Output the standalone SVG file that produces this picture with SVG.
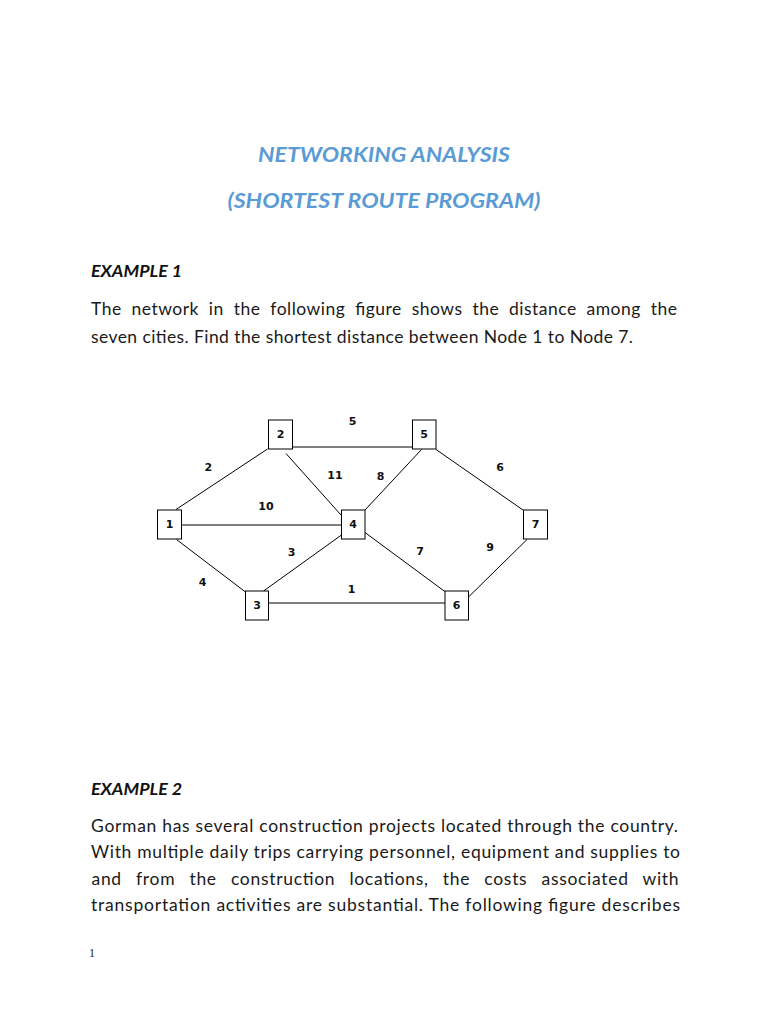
<svg xmlns="http://www.w3.org/2000/svg" width="768" height="1024" viewBox="0 0 768 1024">
<style>
.title{font-family:Lato,"Liberation Sans",sans-serif;font-weight:bold;font-style:italic;font-size:20px;fill:#5B9BD5}
.head{font-family:Lato,"Liberation Sans",sans-serif;font-weight:bold;font-style:italic;font-size:17px;fill:#111}
.body{font-family:Lato,"Liberation Sans",sans-serif;font-size:17.5px;fill:#1a1a1a}
.pg{font-family:"Liberation Serif",serif;font-size:12px;fill:#222}
.node rect{fill:#fff;stroke:#000;stroke-width:1}
.lbl{font-family:"DejaVu Sans",sans-serif;font-weight:bold;font-size:11px;fill:#111;text-anchor:middle;dominant-baseline:central}
.edges line{stroke:#000;stroke-width:1}
</style>
<rect width="768" height="1024" fill="#fff"/>
<text class="title" x="384" y="162" text-anchor="middle" textLength="252" lengthAdjust="spacingAndGlyphs">NETWORKING ANALYSIS</text>
<text class="title" x="384" y="208" text-anchor="middle" textLength="313" lengthAdjust="spacingAndGlyphs">(SHORTEST ROUTE PROGRAM)</text>
<text class="head" x="91" y="277" textLength="91" lengthAdjust="spacingAndGlyphs">EXAMPLE 1</text>
<text class="body" x="91" y="315" word-spacing="5" textLength="586" lengthAdjust="spacing">The network in the following figure shows the distance among the</text>
<text class="body" x="91" y="343" textLength="542" lengthAdjust="spacing">seven cities. Find the shortest distance between Node 1 to Node 7.</text>

<g class="edges">
<line x1="176" y1="509.5" x2="267.5" y2="449"/>
<line x1="292.5" y1="447" x2="412.5" y2="447"/>
<line x1="181.5" y1="525" x2="341.5" y2="525"/>
<line x1="286" y1="453.5" x2="341" y2="515"/>
<line x1="176.5" y1="539.5" x2="245.5" y2="592"/>
<line x1="263.5" y1="591" x2="341.5" y2="535"/>
<line x1="268.5" y1="603" x2="445" y2="603"/>
<line x1="365" y1="510" x2="421.5" y2="449.5"/>
<line x1="365" y1="532.5" x2="445.5" y2="592"/>
<line x1="436" y1="449.5" x2="523" y2="510"/>
<line x1="469" y1="596.5" x2="527" y2="539.5"/>
<text class="lbl" x="352.7" y="421.7">5</text>
<text class="lbl" x="208.3" y="467.7">2</text>
<text class="lbl" x="335" y="475">11</text>
<text class="lbl" x="380.7" y="476.7">8</text>
<text class="lbl" x="266" y="506.7">10</text>
<text class="lbl" x="291.7" y="552.3">3</text>
<text class="lbl" x="202.7" y="582.7">4</text>
<text class="lbl" x="351.7" y="589">1</text>
<text class="lbl" x="420" y="551.7">7</text>
<text class="lbl" x="490" y="547.7">9</text>
<text class="lbl" x="500" y="467.3">6</text>
</g>

<g id="node1" class="node"><rect x="157.5" y="510" width="24" height="29"/><text class="lbl" x="169.5" y="524.5">1</text></g>
<g id="node2" class="node"><rect x="268.5" y="420" width="24" height="29"/><text class="lbl" x="280.5" y="434.5">2</text></g>
<g id="node3" class="node"><rect x="245.5" y="591" width="23" height="29"/><text class="lbl" x="257" y="605.5">3</text></g>
<g id="node4" class="node"><rect x="341.5" y="510" width="23.5" height="29"/><text class="lbl" x="353.2" y="524.5">4</text></g>
<g id="node5" class="node"><rect x="412.5" y="420" width="23.5" height="29"/><text class="lbl" x="424.2" y="434.5">5</text></g>
<g id="node6" class="node"><rect x="445" y="591" width="23.5" height="29"/><text class="lbl" x="456.7" y="605.5">6</text></g>
<g id="node7" class="node"><rect x="523.5" y="510" width="24" height="29"/><text class="lbl" x="535.5" y="524.5">7</text></g>

<text class="head" x="91" y="795" textLength="91" lengthAdjust="spacingAndGlyphs">EXAMPLE 2</text>
<text class="body" x="91" y="832" textLength="587" lengthAdjust="spacing">Gorman has several construction projects located through the country.</text>
<text class="body" x="91" y="858" textLength="589" lengthAdjust="spacing">With multiple daily trips carrying personnel, equipment and supplies to</text>
<text class="body" x="91.5" y="885" word-spacing="9" textLength="587" lengthAdjust="spacing">and from the construction locations, the costs associated with</text>
<text class="body" x="91" y="911" textLength="589" lengthAdjust="spacing">transportation activities are substantial. The following figure describes</text>
<text class="pg" x="89" y="957">1</text>
</svg>
